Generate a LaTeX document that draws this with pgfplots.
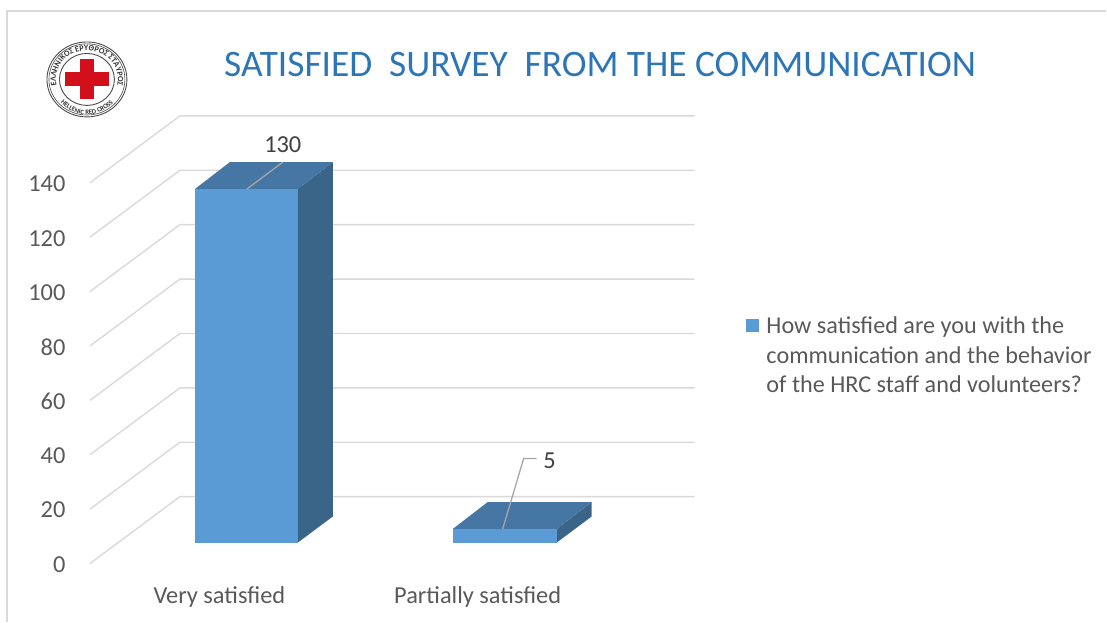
\documentclass[border=0pt]{standalone}
\usepackage{pgfplots}
\pgfplotsset{compat=1.18}
\usepackage{fontspec}
\setmainfont{Carlito}
\usetikzlibrary{decorations.text}
\definecolor{frontblue}{HTML}{5B9BD5}
\definecolor{topblue}{HTML}{4676A3}
\definecolor{sideblue}{HTML}{3A6488}
\definecolor{gridgray}{HTML}{D9D9D9}
\definecolor{leadergray}{HTML}{A6A6A6}
\definecolor{labelgray}{HTML}{595959}
\definecolor{valuegray}{HTML}{404040}
\definecolor{titleblue}{HTML}{2E75B6}
\definecolor{crossred}{HTML}{D2101C}
\pgfplotsset{
  wall/.style={gridgray, line width=1.4pt, forget plot},
  leader/.style={leadergray, line width=1.3pt, forget plot},
}
\begin{document}
\begin{tikzpicture}[x=1pt, y=1pt]
\begin{axis}[
  at={(0pt,0pt)}, anchor=south west,
  scale only axis, width=1107pt, height=622pt,
  xmin=0, xmax=1107, ymin=-29.03, ymax=199.52,
  axis line style={draw=none},
  major tick length=0pt,
  tick style={draw=none},
  /pgf/number format/assume math mode=true,
  font=\fontsize{24.4}{28}\selectfont,
  xtick={219.5,478},
  xticklabels={Very satisfied,Partially satisfied},
  xticklabel style={text=labelgray, anchor=center, yshift=25pt},
  ytick={-7.7,12.3,32.3,52.3,72.3,92.3,112.3,132.3},
  yticklabels={0,20,40,60,80,100,120,140},
  yticklabel style={text=labelgray, anchor=east, xshift=69pt, yshift=-1pt},
  title={SATISFIED\ \ SURVEY\ \ FROM THE COMMUNICATION},
  title style={at={(0.5425,0.8955)}, anchor=center, text=titleblue, yshift=-6pt,
    font=\fontsize{37.4}{42}\selectfont},
  legend style={at={(746.5pt,307pt)}, anchor=north west, draw=none, fill=none,
    inner sep=0pt, outer sep=0pt, text=labelgray,
    font=\fontsize{24.2}{29.5}\selectfont},
  legend cell align=left,
]
% back wall grid lines, one for each axis value, running up the side and along the back
\addplot[wall] coordinates {(90,-7.7) (180,16.9) (695,16.9)};
\addplot[wall] coordinates {(90,12.3) (180,36.9) (695,36.9)};
\addplot[wall] coordinates {(90,32.3) (180,56.9) (695,56.9)};
\addplot[wall] coordinates {(90,52.3) (180,76.9) (695,76.9)};
\addplot[wall] coordinates {(90,72.3) (180,96.9) (695,96.9)};
\addplot[wall] coordinates {(90,92.3) (180,116.9) (695,116.9)};
\addplot[wall] coordinates {(90,112.3) (180,136.9) (695,136.9)};
\addplot[wall] coordinates {(90,132.3) (180,156.9) (695,156.9)};
% side and top faces of the two bars
\addplot[fill=sideblue, draw=none, forget plot] coordinates {(298,0) (333,9.6) (333,139.9) (298,130)} -- cycle;
\addplot[fill=topblue, draw=none, forget plot] coordinates {(195,130) (230,139.9) (333,139.9) (298,130)} -- cycle;
\addplot[fill=sideblue, draw=none, forget plot] coordinates {(557,0) (592,9.6) (592,14.9) (557,5)} -- cycle;
\addplot[fill=topblue, draw=none, forget plot] coordinates {(453,5) (488,14.9) (592,14.9) (557,5)} -- cycle;
% front faces, carrying the values
\addplot[ybar, bar width=103pt, bar shift=0pt, fill=frontblue, draw=none,
  legend image code/.code={\fill[frontblue] (0pt,-6.5pt) rectangle (13pt,6.5pt);},
  nodes near coords, nodes near coords style={anchor=center, text=valuegray, xshift=36.5pt, yshift=44pt}]
  coordinates {(246.5,130)};
\addlegendentry{\hspace*{5.5pt}\parbox[t]{335pt}{How satisfied are you with the\\communication and the behavior\\of the HRC staff and volunteers?}}
\addplot[ybar, bar width=104pt, bar shift=0pt, fill=frontblue, draw=none, forget plot,
  nodes near coords, nodes near coords style={anchor=center, text=valuegray, xshift=45pt, yshift=68.5pt}]
  coordinates {(505,5)};
% leader lines from the bars to their value labels
\addplot[leader] coordinates {(247,130) (283,139.9)};
\addplot[leader] coordinates {(503,5) (524,30.9) (537,30.9)};
\end{axis}
% panel border on the top and left
\draw[gridgray, line width=1.5pt] (7,0) -- (7,611) -- (1107,611);
% society emblem
\begin{scope}[shift={(87,542.5)}]
  \fill[white] (0,0) ellipse (40 and 37.5);
  \draw[black!70, line width=0.9pt] (0,0) ellipse (40 and 37.5);
  \draw[black!70, line width=0.6pt] (0,0) ellipse (38 and 35.6);
  \draw[black!70, line width=0.9pt] (0,0) ellipse (27.5 and 26);
  \fill[crossred] (-7,-20) rectangle (7,20);
  \fill[crossred] (-22,-7) rectangle (22,7);
  \path[decorate, decoration={text along path, text align=center,
      text={|\fontsize{8.2}{9}\selectfont\bfseries\color{black!80}|ΕΛΛΗΝΙΚΟΣ ΕΡΥΘΡΟΣ ΣΤΑΥΡΟΣ}}]
    (-26.85,-14.5) arc[start angle=210, end angle=-30, x radius=31, y radius=29];
  \path[decorate, decoration={text along path, text align=center,
      text={|\fontsize{6.8}{8}\selectfont\bfseries\color{black!80}|HELLENIC RED CROSS}}]
    (-30.7,-17.6) arc[start angle=210, end angle=330, x radius=35.5, y radius=35.2];
\end{scope}
\end{tikzpicture}
\end{document}
